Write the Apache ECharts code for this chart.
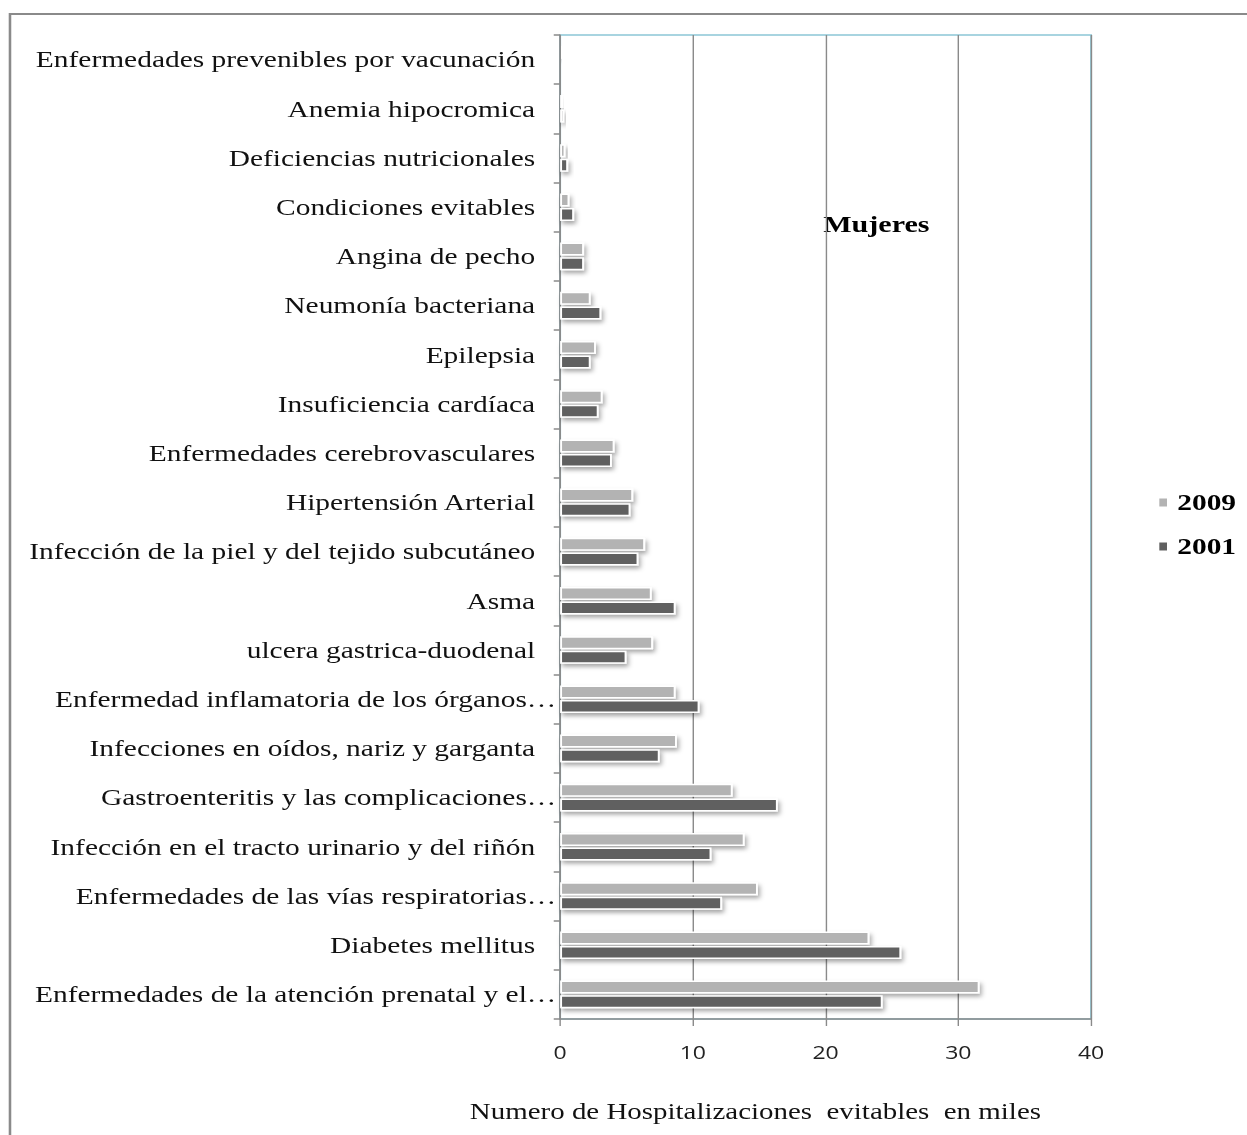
<!DOCTYPE html>
<html>
<head>
<meta charset="utf-8">
<style>
  html, body { margin: 0; padding: 0; background: #ffffff; overflow: hidden; }
  /* the chart is laid out in a narrower box and widened, giving the wide-set lettering */
  #chart { width: 974px; height: 1135px; transform: scaleX(1.2803); transform-origin: 0 0; }
</style>
<script src="https://cdn.jsdelivr.net/npm/echarts@6/dist/echarts.min.js"></script>
</head>
<body>
<div id="chart"></div>
<script>
// Categories, listed from the bottom of the chart to the top
const categories = [
  'Enfermedades de la atención prenatal y el…',
  'Diabetes mellitus',
  'Enfermedades de las vías respiratorias…',
  'Infección en el tracto urinario y del riñón',
  'Gastroenteritis y las complicaciones…',
  'Infecciones en oídos, nariz y garganta',
  'Enfermedad inflamatoria de los órganos…',
  'ulcera gastrica-duodenal',
  'Asma',
  'Infección de la piel y del tejido subcutáneo',
  'Hipertensión Arterial',
  'Enfermedades cerebrovasculares',
  'Insuficiencia cardíaca',
  'Epilepsia',
  'Neumonía bacteriana',
  'Angina de pecho',
  'Condiciones evitables',
  'Deficiencias nutricionales',
  'Anemia hipocromica',
  'Enfermedades prevenibles por vacunación'
];

// Hospitalizations (thousands)
const values2009 = [31.6, 23.3, 14.9, 13.9, 13.0, 8.8, 8.7, 7.0, 6.9, 6.4,
                    5.5, 4.1, 3.2, 2.7, 2.3, 1.8, 0.7, 0.4, 0.25, 0.15];
const values2001 = [24.3, 25.7, 12.2, 11.4, 16.4, 7.5, 10.5, 5.0, 8.7, 5.9,
                    5.3, 3.9, 2.9, 2.3, 3.1, 1.8, 1.05, 0.6, 0.3, 0.1];

const xTicks = [0, 10, 20, 30, 40];
const seriesNames = ['2009', '2001'];
const chartLabel = 'Mujeres';
const xAxisTitle = 'Numero de Hospitalizaciones  evitables  en miles';

const serif = '"Liberation Serif", "Times New Roman", serif';
const sans = '"Open Sans", "Liberation Sans", sans-serif';

const barStyle = (color) => ({
  color: color,
  borderColor: '#ffffff',
  borderWidth: 1.5,
  shadowColor: 'rgba(0,0,0,0.35)',
  shadowBlur: 4,
  shadowOffsetX: 1.5,
  shadowOffsetY: 3
});

const chart = echarts.init(document.getElementById('chart'), null, { renderer: 'svg' });

chart.setOption({
  backgroundColor: '#ffffff',
  animation: false,
  grid: {
    left: 437.5, right: 121.8, top: 35, bottom: 116,
    show: true, borderColor: '#8cc6d6', borderWidth: 1.5, backgroundColor: 'transparent'
  },
  legend: {
    orient: 'vertical',
    left: 903.5, top: 491,
    padding: 0,
    data: seriesNames,
    icon: 'rect',
    itemWidth: 8, itemHeight: 10,
    itemGap: 21,
    textStyle: { fontFamily: serif, fontWeight: 'bold', fontSize: 23, color: '#000', padding: [0, 0, 0, 2] }
  },
  xAxis: {
    type: 'value',
    min: 0, max: 40, interval: 10,
    axisLine: { show: true, lineStyle: { color: '#8a8a8a', width: 1.5 } },
    axisTick: { show: true, length: 7, lineStyle: { color: '#8a8a8a', width: 1.1 } },
    splitLine: { show: true, lineStyle: { color: '#8a8a8a', width: 1.1 } },
    axisLabel: {
      margin: 24,
      fontFamily: sans,
      fontSize: 18, color: '#222',
      formatter: (v) => xTicks.includes(v) ? String(v) : ''
    }
  },
  yAxis: {
    type: 'category',
    data: categories,
    axisLine: { show: true, lineStyle: { color: '#8a8a8a', width: 1.1 } },
    axisTick: { show: true, length: 5, lineStyle: { color: '#8a8a8a', width: 1.5 } },
    axisLabel: {
      margin: 3,
      fontFamily: serif, fontSize: 23, color: '#111',
      formatter: (v) => v.endsWith('…') ? v : v + '{p| }',
      rich: { p: { width: 16.5 } }
    }
  },
  series: [
    {
      name: '2009', type: 'bar', data: values2009,
      barWidth: 13, barGap: '12%',
      itemStyle: barStyle('#b3b3b3')
    },
    {
      name: '2001', type: 'bar', data: values2001,
      barWidth: 13, barGap: '12%',
      itemStyle: barStyle('#606060')
    }
  ],
  graphic: [
    {
      type: 'rect', silent: true,
      shape: { x: 7.8, y: 14, width: 1100, height: 1200 },
      style: { fill: 'none', stroke: '#8a8a8a', lineWidth: 2 }
    },
    {
      type: 'text', x: 643, y: 224,
      style: { text: chartLabel, fontFamily: serif, fontWeight: 'bold', fontSize: 23.5, fill: '#000', verticalAlign: 'middle' }
    },
    {
      type: 'text', x: 367, y: 1112,
      style: { text: xAxisTitle, fontFamily: serif, fontSize: 22.6, fill: '#111', verticalAlign: 'middle' }
    }
  ]
});
</script>
</body>
</html>
